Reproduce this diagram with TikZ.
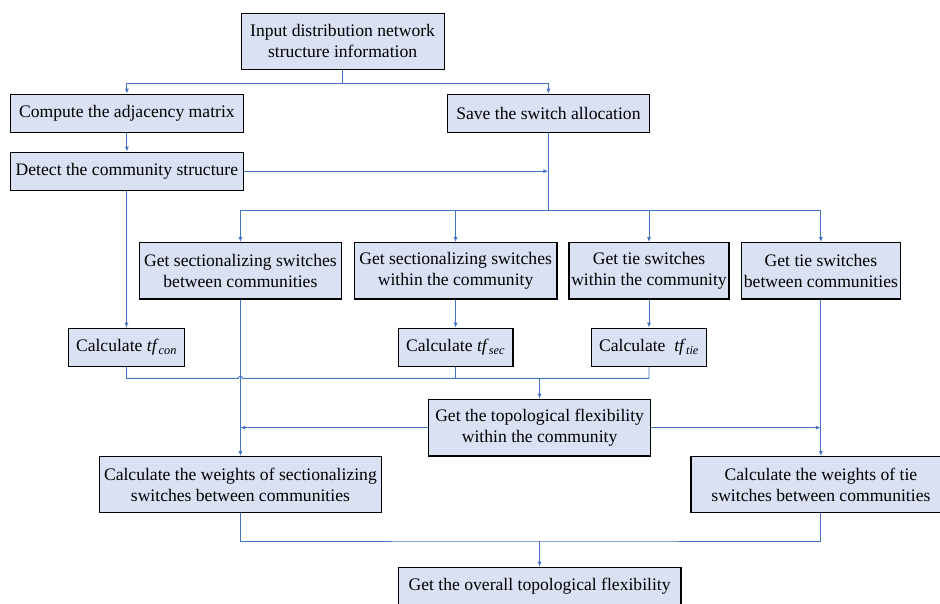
\documentclass[tikz,border=0pt]{standalone}
\usepackage{fontspec}
\setmainfont{Liberation Serif}
\usetikzlibrary{arrows.meta}
\definecolor{boxfill}{HTML}{DAE1F3}
\definecolor{linkblue}{HTML}{4472C4}
\begin{document}
\begin{tikzpicture}[x=1pt,y=-1pt,
  box/.style={draw=black,line width=1.2pt,fill=boxfill,inner sep=0pt,align=center,
    font=\fontsize{17.6}{20.7}\selectfont},
  link/.style={draw=linkblue,line width=0.9pt},
  arr/.style={link,-{Latex[length=5pt,width=4pt]}}]
\useasboundingbox (0,0) rectangle (940,603);
\clip (0,0) rectangle (940,603);
% nodes
\node[box,minimum width=203pt,minimum height=56pt] (in) at (342.6,41.3) {Input distribution network\\structure information};
\node[box,minimum width=233pt,minimum height=38pt] (adj) at (126.9,113.3) {Compute the adjacency matrix};
\node[box,minimum width=202pt,minimum height=38pt] (save) at (548.4,113.3) {Save the switch allocation};
\node[box,minimum width=233pt,minimum height=38pt] (det) at (126.9,171.2) {Detect the community structure};
\node[box,minimum width=202.6pt,minimum height=56.3pt] (g1) at (240.4,270.85) {Get sectionalizing switches\\between communities};
\node[box,minimum width=202.6pt,minimum height=56.3pt] (g2) at (455.6,270.85) {Get sectionalizing switches\\within the community};
\node[box,minimum width=160pt,minimum height=56.3pt] (g3) at (649,270.85) {Get tie switches\\within the community};
\node[box,minimum width=159.5pt,minimum height=56.3pt] (g4) at (820.9,270.85) {Get tie switches\\between communities};
\node[box,minimum width=116pt,minimum height=38pt] (cc) at (126.5,347.3) {Calculate \textit{tf}\textsubscript{\textit{con}}};
\node[box,minimum width=114.6pt,minimum height=38pt] (cs) at (455.6,347.3) {Calculate \textit{tf}\textsubscript{\textit{sec}}};
\node[box,minimum width=114.6pt,minimum height=38pt] (ct) at (649,347.3) {Calculate\ \ \textit{tf}\textsubscript{\textit{tie}}};
\node[box,minimum width=221.8pt,minimum height=56.7pt] (topo) at (539.6,427.65) {Get the topological flexibility\\within the community};
\node[box,minimum width=281.8pt,minimum height=56pt] (wsec) at (240.4,484.7) {Calculate the weights of sectionalizing\\switches between communities};
\node[box,minimum width=260pt,minimum height=56pt] (wtie) at (820.9,484.7) {Calculate the weights of tie\\switches between communities};
\node[box,minimum width=282.7pt,minimum height=38pt] (ov) at (539.6,586.3) {Get the overall topological flexibility};
% helper coordinates
\coordinate (s1) at (342.6,83.3);
\coordinate (s2) at (548.4,210.7);
\coordinate (m1) at (539.6,378.3);
\coordinate (m2) at (539.6,541);
% connectors
\draw[link] (in.south) -- (s1);
\draw[arr] (s1) -| (adj.north);
\draw[arr] (s1) -| (save.north);
\draw[arr] (adj.south) -- (det.north);
\draw[link] (save.south) -- (s2);
\draw[arr] (det.east) -- (det.east -| s2);
\draw[arr] (s2) -| (g1.north);
\draw[arr] (s2) -| (g4.north);
\draw[arr] (g2.north |- s2) -- (g2.north);
\draw[arr] (g3.north |- s2) -- (g3.north);
\draw[arr] (det.south -| cc.north) -- (cc.north);
\draw[arr] (g2.south) -- (cs.north);
\draw[arr] (g3.south) -- (ct.north);
\draw[link] (cc.south) |- (238.4,378.3) arc (180:360:2) -- (ct.south |- m1) -- (ct.south);
\draw[link] (cs.south) -- (cs.south |- m1);
\draw[arr] (m1) -- (topo.north);
\draw[arr] (g1.south) -- (wsec.north);
\draw[arr] (g4.south) -- (wtie.north);
\draw[arr] (topo.west) -- (topo.west -| g1.south);
\draw[arr] (topo.east) -- (topo.east -| g4.south);
\draw[link] (wsec.south) |- (m2) -| (wtie.south);
\draw[arr] (m2) -- (ov.north);
\end{tikzpicture}
\end{document}
